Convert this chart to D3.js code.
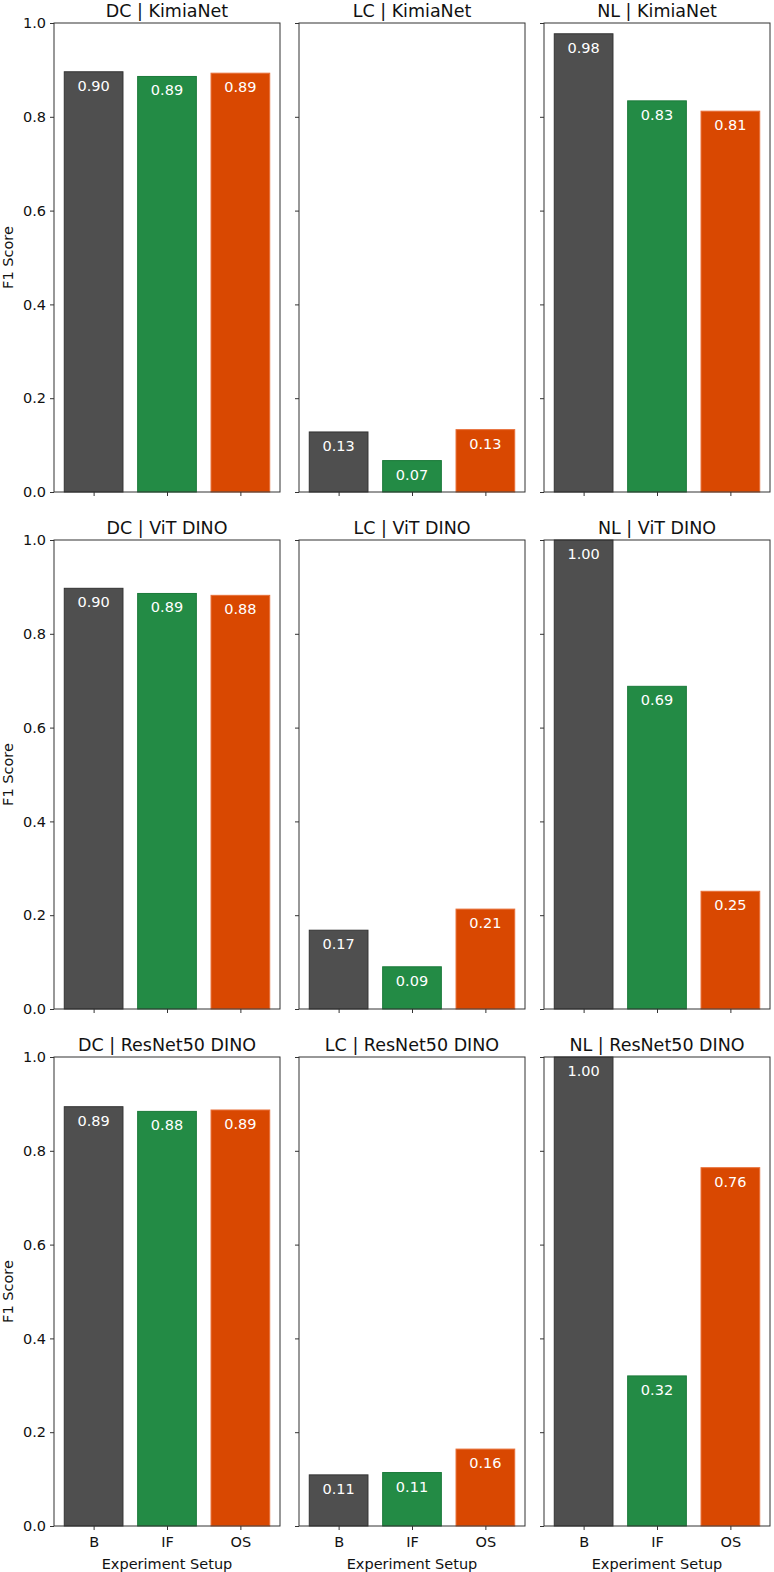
<!DOCTYPE html>
<html><head><meta charset="utf-8">
<script src="https://cdn.jsdelivr.net/npm/d3@7"></script>
<style>body{margin:0;background:#fff;} text{font-family:"DejaVu Sans",sans-serif;}</style>
</head><body>
<svg id="chart" width="774" height="1572"></svg>
<script>
const setups = ["B", "IF", "OS"];
const datasets = ["DC", "LC", "NL"];
const models = ["KimiaNet", "ViT DINO", "ResNet50 DINO"];
const yTicks = [0.0, 0.2, 0.4, 0.6, 0.8, 1.0];
const colors = ["#4f4f4f", "#238b45", "#d94801"];
const strokes = ["#333333", "#1b7a3a", "#e8703a"];
// values per model, per dataset: [B, IF, OS]
const kimiaNet = [[0.896, 0.886, 0.893], [0.128, 0.067, 0.133], [0.977, 0.834, 0.812]];
const vitDino = [[0.897, 0.886, 0.882], [0.168, 0.090, 0.213], [1.000, 0.688, 0.251]];
const resnetDino = [[0.894, 0.884, 0.887], [0.109, 0.114, 0.164], [1.000, 0.320, 0.764]];
const allValues = [kimiaNet, vitDino, resnetDino];

const svg = d3.select("#chart");
const colX = [54, 299, 544];
const rowY = [23, 540, 1057];
const W = 226, H = 469;
const fmt = d3.format(".2f");

const x = d3.scaleLinear().domain([-0.54, 2.54]).range([0, W]);
const y = d3.scaleLinear().domain([0, 1]).range([H, 0]);

models.forEach((m, r) => {
  datasets.forEach((ds, c) => {
    const g = svg.append("g").attr("transform", `translate(${colX[c]},${rowY[r]})`);
    const vals = allValues[r][c];
    g.selectAll("rect.bar").data(vals).enter().append("rect")
      .attr("class", "bar")
      .attr("x", (d, i) => x(i - 0.4))
      .attr("width", x(0.8) - x(0))
      .attr("y", d => y(d))
      .attr("height", d => y(0) - y(d))
      .attr("fill", (d, i) => colors[i])
      .attr("stroke", (d, i) => strokes[i])
      .attr("stroke-width", 1);
    g.selectAll("text.lab").data(vals).enter().append("text")
      .attr("x", (d, i) => x(i))
      .attr("y", d => y(d) + 19)
      .attr("text-anchor", "middle")
      .attr("fill", "#fff")
      .attr("font-size", "14.5px")
      .text(d => fmt(d));
    const yAxis = d3.axisLeft(y).tickValues(yTicks).tickSize(4).tickPadding(4)
      .tickFormat(c === 0 ? d3.format(".1f") : () => "");
    const ya = g.append("g").call(yAxis);
    const xAxis = d3.axisBottom(x).tickValues([0, 1, 2]).tickSize(4).tickPadding(7)
      .tickFormat(r === 2 ? (d => setups[d]) : () => "");
    const xa = g.append("g").attr("transform", `translate(0,${H})`).call(xAxis);
    [ya, xa].forEach(a => {
      a.select(".domain").remove();
      a.selectAll("line").attr("stroke", "#333");
      a.selectAll("text").attr("font-size", "14.5px").attr("fill", "#111").attr("font-family", "DejaVu Sans");
    });
    g.append("rect").attr("x", 0).attr("y", 0).attr("width", W).attr("height", H)
      .attr("fill", "none").attr("stroke", "#333").attr("stroke-width", 1);
    g.append("text").attr("x", W / 2).attr("y", -6).attr("text-anchor", "middle")
      .attr("font-size", "17.5px").attr("fill", "#111").text(`${ds} | ${m}`);
    if (c === 0) {
      g.append("text").attr("transform", `translate(${-41},${H / 2}) rotate(-90)`)
        .attr("text-anchor", "middle").attr("font-size", "14.5px").attr("fill", "#111")
        .text("F1 Score");
    }
    if (r === 2) {
      g.append("text").attr("x", W / 2).attr("y", H + 43).attr("text-anchor", "middle")
        .attr("font-size", "14.5px").attr("fill", "#111").text("Experiment Setup");
    }
  });
});
</script>
</body></html>
